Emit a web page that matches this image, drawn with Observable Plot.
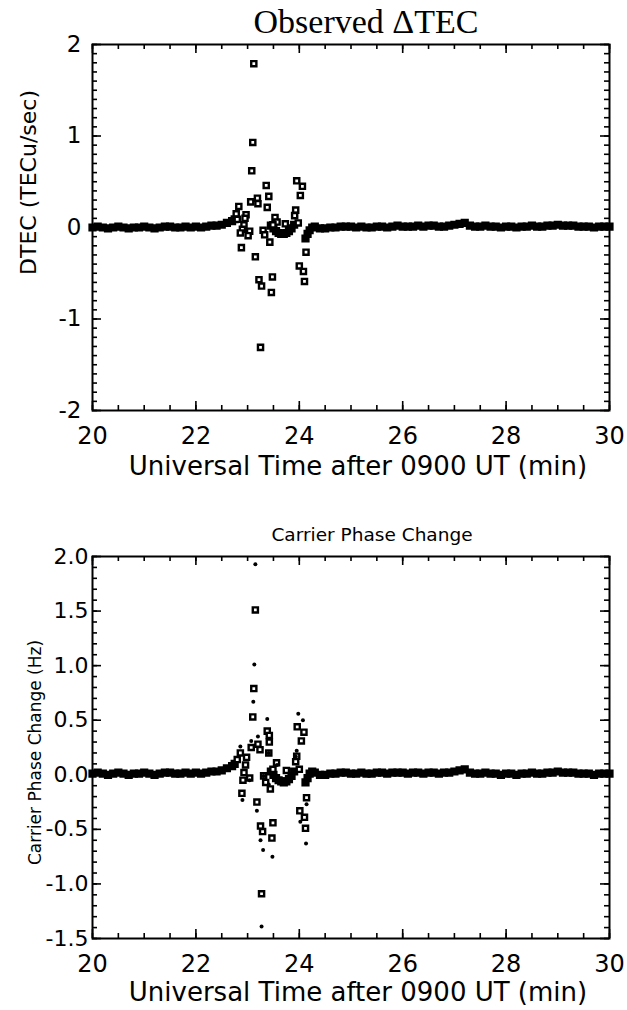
<!DOCTYPE html>
<html><head><meta charset="utf-8">
<script src="https://cdn.jsdelivr.net/npm/d3@7"></script>
<script src="https://cdn.jsdelivr.net/npm/@observablehq/plot@0.6"></script>
<style>
body{margin:0;background:#fff;}
#wrap{width:627px;height:1010px;overflow:hidden;background:#fff;}
#wrap svg{display:block;}
</style></head><body><div id="wrap"></div>
<script>
// ---------- tick labels / titles ----------
const xTickLabels = [20, 22, 24, 26, 28, 30];
const tecTickLabels = [-2, -1, 0, 1, 2];
const phaseTickLabels = [-1.5, -1.0, -0.5, 0.0, 0.5, 1.0, 1.5, 2.0];
const xTitle = "Universal Time after 0900 UT (min)";
const tecTitle = "Observed \u0394TEC";
const tecYTitle = "DTEC (TECu/sec)";
const phaseTitle = "Carrier Phase Change";
const phaseYTitle = "Carrier Phase Change (Hz)";

// ---------- dense quiet-time band (min, value) ----------
const baseTime = [20.0,20.1,20.2,20.3,20.4,20.5,20.6,20.7,20.8,20.9,21.0,21.1,21.2,21.3,21.4,21.5,21.6,21.7,21.8,21.9,22.0,22.1,22.2,22.3,22.4,22.5,22.6,22.7,22.75,
  23.45,23.5,23.55,23.6,23.65,23.7,23.75,23.8,23.85,23.9,
  24.12,24.16,24.2,24.25,
  24.3,24.4,24.5,24.6,24.7,24.8,24.9,25.0,25.1,25.2,25.3,25.4,25.5,25.6,25.7,25.8,25.9,26.0,26.1,26.2,26.3,26.4,26.5,26.6,26.7,26.8,26.9,27.0,27.1,27.2,27.3,27.4,27.5,27.6,27.7,27.8,27.9,28.0,28.1,28.2,28.3,28.4,28.5,28.6,28.7,28.8,28.9,29.0,29.1,29.2,29.3,29.4,29.5,29.6,29.7,29.8,29.9,30.0];
const tecBaseValue = [0.00,0.01,0.00,-0.01,0.00,0.01,0.00,-0.01,0.00,0.00,0.01,0.00,-0.01,0.00,0.01,0.01,0.00,0.00,0.01,0.00,0.01,0.00,0.01,0.02,0.02,0.03,0.05,0.07,0.09,
  0.02,-0.01,-0.04,-0.06,-0.07,-0.07,-0.06,-0.04,-0.01,0.03,
  -0.12,-0.07,-0.03,0.00,
  0.01,-0.01,-0.01,0.00,0.00,0.01,0.01,0.01,0.00,0.01,0.00,0.00,0.01,0.01,0.00,0.01,0.02,0.01,0.01,0.01,0.02,0.01,0.02,0.02,0.01,0.01,0.02,0.03,0.04,0.05,0.02,0.01,0.01,0.02,0.01,0.01,0.00,0.01,0.01,0.00,0.01,0.01,0.02,0.01,0.01,0.02,0.02,0.03,0.02,0.02,0.02,0.01,0.01,0.01,0.00,0.01,0.01,0.01];
const phaseBaseValue = [0.01,0.02,0.01,0.00,0.01,0.02,0.01,0.00,0.01,0.01,0.02,0.01,0.00,0.01,0.02,0.02,0.01,0.01,0.02,0.01,0.02,0.01,0.02,0.03,0.03,0.04,0.06,0.08,0.10,
  0.03,0.00,-0.03,-0.05,-0.06,-0.07,-0.06,-0.04,-0.01,0.03,
  -0.07,-0.03,0.01,0.03,
  0.02,0.00,0.00,0.01,0.01,0.02,0.02,0.01,0.01,0.02,0.01,0.01,0.02,0.02,0.01,0.02,0.02,0.02,0.01,0.02,0.02,0.01,0.02,0.02,0.01,0.02,0.02,0.03,0.04,0.05,0.02,0.01,0.01,0.02,0.01,0.01,0.00,0.01,0.01,0.00,0.01,0.01,0.02,0.01,0.01,0.02,0.02,0.03,0.02,0.02,0.02,0.01,0.01,0.01,0.00,0.01,0.01,0.01];

// ---------- disturbance: observed DTEC (squares) ----------
const tecTime  = [23.12,23.10,23.08,23.36,23.95,24.06,24.02,23.41,23.19,23.06,23.20,22.83,23.38,23.93,22.78,22.97,23.91,23.53,22.80,22.95,23.57,23.73,23.98,23.49,22.93,22.90,23.30,23.04,22.86,23.33,23.01,23.43,22.88,24.13,23.15,24.00,24.08,23.48,23.22,23.27,23.46,24.10,23.25];
const tecValue = [1.79,0.93,0.62,0.46,0.51,0.45,0.35,0.34,0.32,0.28,0.26,0.23,0.22,0.19,0.15,0.14,0.13,0.11,0.09,0.10,0.06,0.04,0.05,0.03,0.03,-0.02,-0.03,-0.04,-0.06,-0.08,-0.09,-0.16,-0.22,-0.27,-0.32,-0.42,-0.48,-0.54,-0.57,-0.64,-0.71,-0.59,-1.31];

// ---------- disturbance: carrier phase change ----------
const phaseSqTime  = [23.15,23.12,23.10,23.38,23.42,23.96,24.09,24.04,23.42,23.20,23.07,23.24,22.86,23.41,23.95,22.80,22.98,23.93,23.56,22.96,23.75,24.00,23.49,22.93,23.31,22.91,23.04,23.35,23.44,22.89,24.14,23.18,24.01,24.10,23.49,23.25,23.29,24.12,23.47,23.27];
const phaseSqValue = [1.51,0.79,0.53,0.40,0.36,0.44,0.39,0.31,0.30,0.28,0.25,0.23,0.20,0.20,0.17,0.14,0.16,0.12,0.11,0.09,0.04,0.05,0.05,0.02,-0.01,-0.05,-0.03,-0.07,-0.13,-0.17,-0.21,-0.25,-0.33,-0.39,-0.44,-0.47,-0.52,-0.49,-0.58,-1.09];
const phaseDotTime  = [23.15,23.13,23.11,23.38,23.98,24.07,23.20,23.07,22.86,23.41,23.95,22.90,23.18,24.14,24.02,23.25,23.30,24.13,23.48,23.27,23.04,23.31,23.41,23.57,23.93];
const phaseDotValue = [1.93,1.01,0.67,0.51,0.56,0.50,0.35,0.31,0.26,0.20,0.22,-0.23,-0.33,-0.27,-0.43,-0.60,-0.69,-0.63,-0.75,-1.39,-0.05,-0.01,-0.09,0.09,0.17];

// ---------- tables ----------
const zipPts = (t, v) => t.map((d, i) => ({t: d, v: v[i]}));
const tecBase = zipPts(baseTime, tecBaseValue);
const phaseBase = zipPts(baseTime, phaseBaseValue);
const tecPts = zipPts(tecTime, tecValue);
const phaseSq = zipPts(phaseSqTime, phaseSqValue);
const phaseDot = zipPts(phaseDotTime, phaseDotValue);

const xMinor = d3.range(40, 61).map(i => i / 2);
const sq = {x: "t", y: "v", symbol: "square", r: 2.9, stroke: "black", strokeWidth: 2.4, fill: "white"};
const band = {x: "t", y: "v", symbol: "square", r: 3.5, stroke: "black", strokeWidth: 2, fill: "black"};

function panel(o) {
  const width = 627, ml = 92, mr = 18;
  const iw = width - ml - mr, ih = o.height - o.mt - o.mb;
  const [y0, y1] = o.yDomain;
  const py = (y1 - y0) / ih, px = 10 / iw;       // data units per pixel
  const tk = {stroke: "black", strokeWidth: 1.6};
  const yMajor = o.yLabels;
  return Plot.plot({
    width, height: o.height, marginLeft: ml, marginRight: mr, marginTop: o.mt, marginBottom: o.mb,
    style: {fontFamily: "DejaVu Sans", background: "white", color: "black", overflow: "visible"},
    x: {domain: [20, 30]},
    y: {domain: o.yDomain},
    marks: [
      ...o.marks,
      // inward ticks on all four sides
      Plot.ruleX(xMinor, {x: d => d, y1: y0, y2: y0 + 5 * py, ...tk}),
      Plot.ruleX(xMinor, {x: d => d, y1: y1, y2: y1 - 5 * py, ...tk}),
      Plot.ruleX(xTickLabels, {x: d => d, y1: y0, y2: y0 + 9 * py, ...tk}),
      Plot.ruleX(xTickLabels, {x: d => d, y1: y1, y2: y1 - 9 * py, ...tk}),
      Plot.ruleY(o.yMinor, {y: d => d, x1: 20, x2: 20 + 5 * px, ...tk}),
      Plot.ruleY(o.yMinor, {y: d => d, x1: 30, x2: 30 - 5 * px, ...tk}),
      Plot.ruleY(yMajor, {y: d => d, x1: 20, x2: 20 + 9 * px, ...tk}),
      Plot.ruleY(yMajor, {y: d => d, x1: 30, x2: 30 - 9 * px, ...tk}),
      Plot.frame({stroke: "black", strokeWidth: 2}),
      Plot.axisX(xTickLabels, {tickSize: 0, tickPadding: 16, fontSize: 24, label: null, tickFormat: d => String(d)}),
      Plot.axisY(o.yLabels, {tickSize: 0, tickPadding: o.yPad, fontSize: o.yFont, label: null, tickFormat: o.yFmt}),
      Plot.text([xTitle], {text: d => d, frameAnchor: "bottom", dy: o.xTitleDy, dx: 7, fontSize: 26, lineAnchor: "top", textAnchor: "middle"}),
      Plot.text([o.yTitle], {text: d => d, frameAnchor: "left", dx: o.yTitleDx, dy: o.yTitleDy, rotate: -90, fontSize: o.yTitleSize, textAnchor: "middle"}),
      Plot.text([o.title], {text: d => d, frameAnchor: "top", dy: o.titleDy, dx: o.titleDx, fontSize: o.titleSize, fontFamily: o.titleFont, lineAnchor: "bottom", textAnchor: "middle"})
    ]
  });
}

const tecPanel = panel({
  height: 490, mt: 44, mb: 80,
  yDomain: [-2, 2], yLabels: tecTickLabels, yMinor: d3.range(-20, 21).map(i => i / 10),
  yFmt: d => String(d), yFont: 23, yPad: 11,
  yTitle: tecYTitle, yTitleDx: -64, yTitleDy: -45, yTitleSize: 22,
  title: tecTitle, titleFont: "Liberation Serif", titleSize: 34, titleDx: 15, titleDy: -12,
  xTitleDy: 46,
  marks: [Plot.dot(tecBase, band), Plot.dot(tecPts, sq)]
});
const phasePanel = panel({
  height: 520, mt: 66, mb: 72,
  yDomain: [-1.5, 2], yLabels: phaseTickLabels, yMinor: d3.range(-15, 21).map(i => i / 10),
  yFmt: d => d.toFixed(1), yFont: 22, yPad: 4,
  yTitle: phaseYTitle, yTitleDx: -57, yTitleDy: 5, yTitleSize: 17,
  title: phaseTitle, titleFont: "DejaVu Sans", titleSize: 18.5, titleDx: 21, titleDy: -16,
  xTitleDy: 44,
  marks: [Plot.dot(phaseBase, band), Plot.dot(phaseSq, sq), Plot.dot(phaseDot, {x: "t", y: "v", r: 2, fill: "black"})]
});
document.getElementById("wrap").append(tecPanel, phasePanel);
</script></body></html>
